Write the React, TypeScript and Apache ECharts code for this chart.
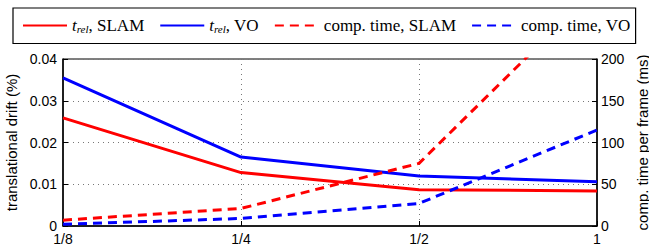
import React, { useEffect, useRef } from "react";
import * as echarts from "echarts";

const resolutions = ["1/8", "1/4", "1/2", "1"];
const driftSLAM = [0.0259, 0.0128, 0.0087, 0.0084];
const driftVO = [0.0355, 0.0165, 0.012, 0.0106];
const timeSLAM = [7, 21, 75, 285];
const timeVO = [2, 9, 27, 115];
const legendNames = ["t_rel, SLAM", "t_rel, VO", "comp. time, SLAM", "comp. time, VO"];

export default function App() {
  const ref = useRef<HTMLDivElement>(null);
  useEffect(() => {
    document.body.style.margin = "0";
    const chart = echarts.init(ref.current!, null, { renderer: "svg" });
    const sans = "Liberation Sans";
    const serif = "Liberation Serif";
    chart.setOption({
      animation: false,
      backgroundColor: "#fff",
      legend: {
        left: 13,
        top: 8,
        itemWidth: 44,
        itemHeight: 14,
        itemGap: 15,
        padding: [9, 5, 9, 9],
        borderColor: "#000",
        borderWidth: 1.2,
        itemStyle: { opacity: 0 },
        data: legendNames,
        formatter: (name: string) => {
          if (name.startsWith("t_rel")) {
            return "{i|t}{s|rel}{n|" + name.slice(5) + "}";
          }
          return "{n|" + name + "}";
        },
        textStyle: {
          fontFamily: serif,
          fontSize: 17,
          color: "#000",
          padding: [0, 0, 0, 0],
          rich: {
            i: { fontFamily: serif, fontStyle: "italic", fontSize: 17, color: "#000" },
            s: { fontFamily: serif, fontStyle: "italic", fontSize: 11, color: "#000", padding: [7, 0, 0, 0] },
            n: { fontFamily: serif, fontSize: 17, color: "#000" },
          },
        },
      },
      grid: {
        left: 63,
        right: 52,
        top: 59,
        bottom: 20,
        containLabel: false,
        outerBoundsMode: "none",
        show: true,
        borderColor: "#000",
        borderWidth: 1,
      },
      xAxis: {
        type: "category",
        data: resolutions,
        boundaryGap: false,
        name: "resolution",
        nameLocation: "middle",
        nameGap: 23,
        nameTextStyle: { fontFamily: sans, fontSize: 15, color: "#000" },
        axisLine: { lineStyle: { color: "#000", width: 1.5 } },
        axisTick: { inside: true, length: 5, lineStyle: { color: "#000" } },
        axisLabel: { fontFamily: sans, fontSize: 14, color: "#000", margin: 6 },
        splitLine: { show: true, lineStyle: { type: [1, 4], color: "#777" } },
      },
      yAxis: [
        {
          type: "value",
          min: 0,
          max: 0.04,
          interval: 0.01,
          name: "translational drift (%)",
          nameLocation: "middle",
          nameGap: 43,
          nameTextStyle: { fontFamily: sans, fontSize: 15, color: "#000" },
          axisLine: { show: true, lineStyle: { color: "#000", width: 1.5 } },
          axisTick: { show: true, inside: true, length: 5, lineStyle: { color: "#000" } },
          axisLabel: { fontFamily: sans, fontSize: 14, color: "#000", margin: 6 },
          splitLine: { show: true, lineStyle: { type: [1, 4], color: "#777" } },
        },
        {
          type: "value",
          min: 0,
          max: 200,
          interval: 50,
          position: "right",
          name: "comp. time per frame (ms)",
          nameLocation: "middle",
          nameGap: 32,
          nameTextStyle: { fontFamily: sans, fontSize: 15, color: "#000" },
          axisLine: { show: true, lineStyle: { color: "#000", width: 1.5 } },
          axisTick: { show: true, inside: true, length: 5, lineStyle: { color: "#000" } },
          axisLabel: { fontFamily: sans, fontSize: 14, color: "#000", margin: 4 },
          splitLine: { show: false },
        },
      ],
      series: [
        {
          name: legendNames[0],
          type: "line",
          data: driftSLAM,
          yAxisIndex: 0,
          showSymbol: false,
          symbol: "none",
          lineStyle: { color: "#ff0000", width: 3 },
          itemStyle: { color: "#ff0000" },
        },
        {
          name: legendNames[1],
          type: "line",
          data: driftVO,
          yAxisIndex: 0,
          showSymbol: false,
          symbol: "none",
          lineStyle: { color: "#0000ff", width: 3 },
          itemStyle: { color: "#0000ff" },
        },
        {
          name: legendNames[2],
          type: "line",
          data: timeSLAM,
          yAxisIndex: 1,
          showSymbol: false,
          symbol: "none",
          clip: true,
          lineStyle: { color: "#ff0000", width: 3, type: [9, 6] },
          itemStyle: { color: "#ff0000" },
        },
        {
          name: legendNames[3],
          type: "line",
          data: timeVO,
          yAxisIndex: 1,
          showSymbol: false,
          symbol: "none",
          clip: true,
          lineStyle: { color: "#0000ff", width: 3, type: [9, 6] },
          itemStyle: { color: "#0000ff" },
        },
      ],
    });
    return () => chart.dispose();
  }, []);
  return (
    <div
      ref={ref}
      style={{ position: "absolute", left: 0, top: 0, width: 649, height: 246 }}
    />
  );
}
